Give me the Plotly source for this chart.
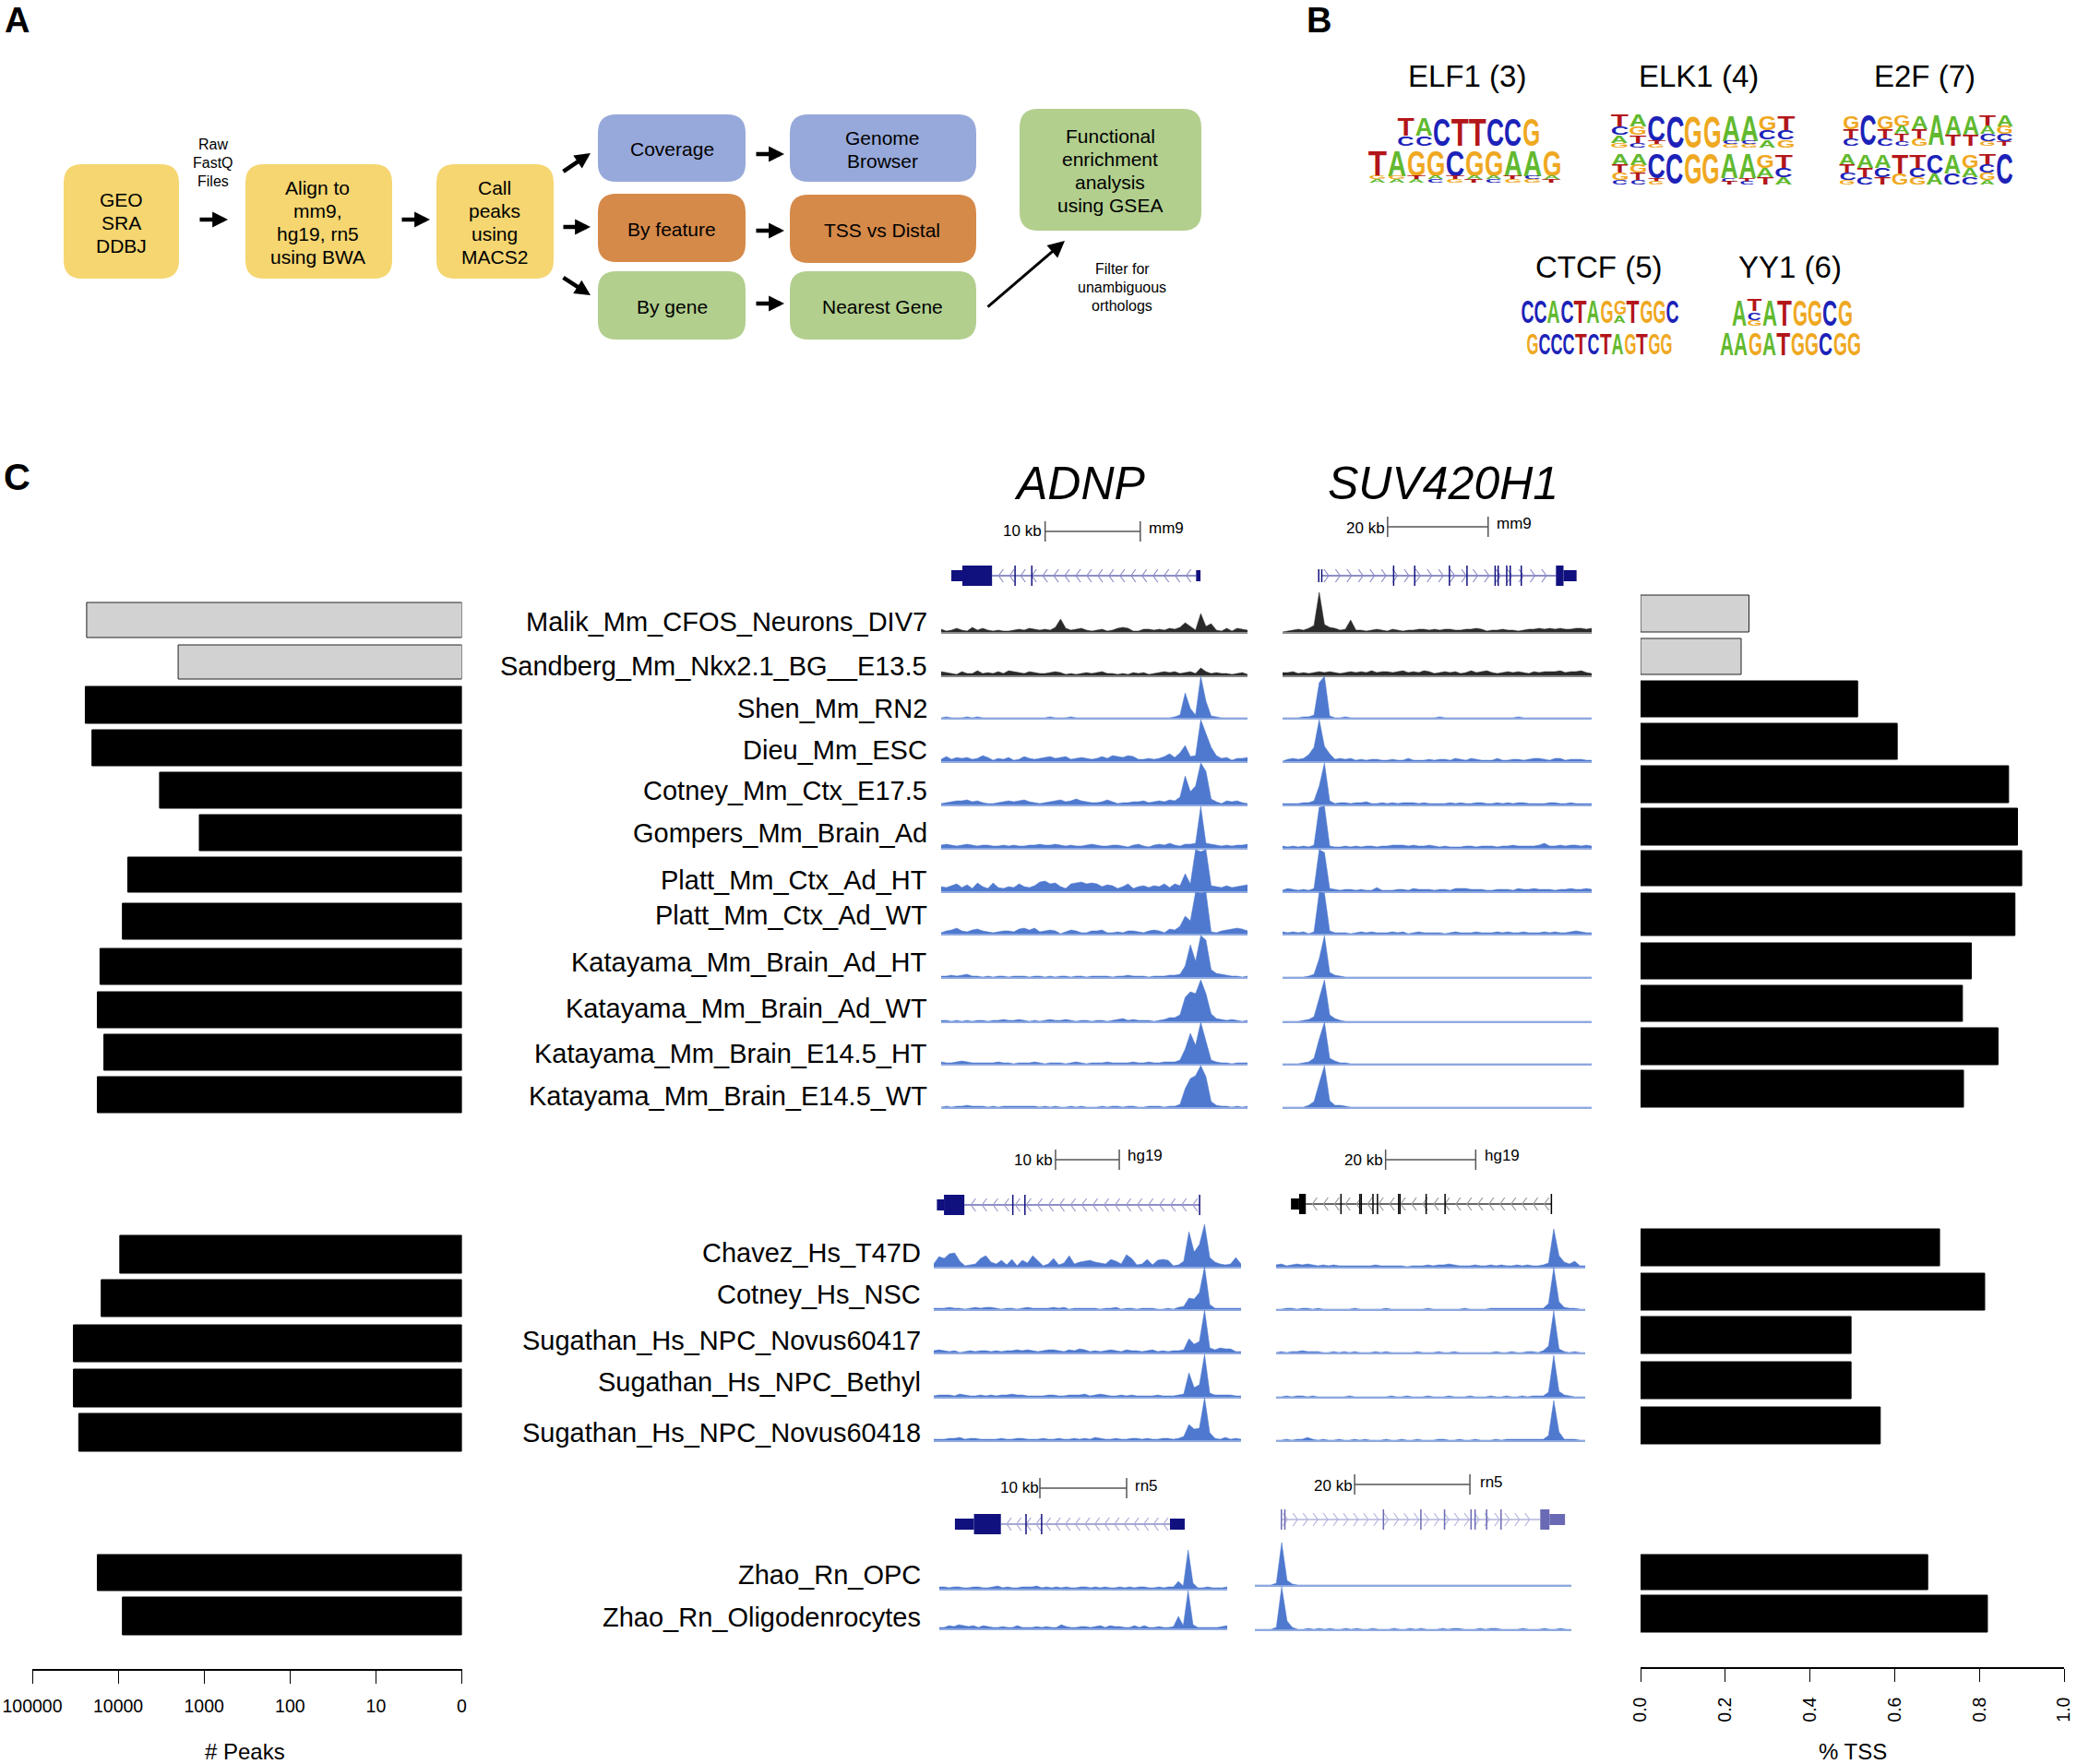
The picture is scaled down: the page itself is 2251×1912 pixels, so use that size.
import json
import numpy as np
import plotly.graph_objects as go

W, H = 2251, 1912

# ---------- DATA ----------
TRACK_NAMES_MM = ["Malik_Mm_CFOS_Neurons_DIV7", "Sandberg_Mm_Nkx2.1_BG__E13.5", "Shen_Mm_RN2", "Dieu_Mm_ESC",
                  "Cotney_Mm_Ctx_E17.5", "Gompers_Mm_Brain_Ad", "Platt_Mm_Ctx_Ad_HT", "Platt_Mm_Ctx_Ad_WT",
                  "Katayama_Mm_Brain_Ad_HT", "Katayama_Mm_Brain_Ad_WT", "Katayama_Mm_Brain_E14.5_HT",
                  "Katayama_Mm_Brain_E14.5_WT"]
TRACK_NAMES_HS = ["Chavez_Hs_T47D", "Cotney_Hs_NSC", "Sugathan_Hs_NPC_Novus60417", "Sugathan_Hs_NPC_Bethyl",
                  "Sugathan_Hs_NPC_Novus60418"]
TRACK_NAMES_RN = ["Zhao_Rn_OPC", "Zhao_Rn_Oligodenrocytes"]

PEAK_COUNTS = [23300, 2005, 24150, 20200, 3300, 1137, 7740, 8930, 16300, 17500, 14680, 17500,
               9580, 15760, 33200, 33200, 28800, 17500, 8930]
TSS_FRACTION = [0.256, 0.2375, 0.5125, 0.606, 0.869, 0.89, 0.9, 0.884, 0.781, 0.76, 0.844, 0.7625,
                0.706, 0.8125, 0.497, 0.497, 0.566, 0.678, 0.819]
PEAK_TICKS = [100000, 10000, 1000, 100, 10, 1]
PEAK_TICK_TEXT = ["100000", "10000", "1000", "100", "10", "0"]
TSS_TICKS = [0.0, 0.2, 0.4, 0.6, 0.8, 1.0]
TSS_TICK_TEXT = ["0.0", "0.2", "0.4", "0.6", "0.8", "1.0"]

ADNP_MM = [
 [3,1,2,4,2,1,5,2,4,2, 1,2,1,1,2,3,2,4,3,2, 3,2,5,14,4,2,3,4,2,1, 2,3,1,2,4,5,4,1,1,3, 3,2,3,2,4,3,5,10,6,2, 20,6,9,2,1,4,1,4,3,2],
 [4,3,2,1,4,2,2,5,2,3, 2,4,2,5,4,3,2,4,3,2, 2,3,4,3,1,2,1,2,3,2, 3,4,2,2,1,2,1,3,2,3, 1,2,3,4,3,4,2,3,4,2, 8,4,2,3,2,2,1,2,3,1],
 [0,1,0,0,0,1,0,1,0,0, 0,0,0,0,0,0,0,0,0,0, 0,1,0,0,0,1,0,0,0,0, 0,0,0,0,0,0,0,0,0,0, 0,0,0,0,0,1,3,27,10,3, 45,18,2,1,0,0,0,0,0,0],
 [2,5,2,4,3,4,2,3,6,4, 1,3,2,4,1,2,5,3,2,3, 4,5,3,4,5,2,3,4,3,2, 3,5,3,6,5,4,6,5,2,2, 3,2,3,5,8,4,9,17,5,6, 45,30,15,6,3,4,1,3,3,4],
 [1,2,3,4,4,5,3,4,2,1, 1,2,3,4,3,4,5,3,2,1, 2,3,4,5,3,4,6,4,3,2, 2,3,5,3,1,2,2,3,3,4, 2,3,4,3,5,4,8,31,14,20, 45,36,6,3,1,4,3,4,2,1],
 [3,4,3,2,3,4,3,2,3,3, 2,2,3,2,3,2,2,3,3,4, 3,3,4,3,2,3,2,2,3,4, 3,2,2,3,3,2,1,3,4,2, 1,3,4,3,5,3,2,4,4,5, 45,5,4,3,2,3,2,3,3,4],
 [5,4,6,8,4,7,3,9,5,3, 9,4,3,5,4,8,5,4,6,10, 11,8,9,5,3,8,9,10,8,9, 8,5,7,6,3,5,8,3,5,6, 4,6,5,8,4,8,6,19,8,45, 43,45,6,5,4,6,4,5,6,7],
 [1,3,4,6,3,2,4,5,3,2, 1,2,3,3,2,5,6,4,6,2, 3,4,3,0,2,4,3,1,1,3, 3,4,1,1,2,1,3,3,2,1, 3,4,3,1,5,4,8,19,14,45, 44,45,2,1,3,4,5,6,5,3],
 [1,1,2,1,2,3,1,1,0,1, 0,1,1,0,1,1,1,0,1,1, 0,1,0,1,1,0,1,1,0,1, 1,1,1,0,1,1,2,1,1,1, 0,1,1,1,2,2,3,12,35,17, 45,40,8,4,3,2,1,1,0,1],
 [1,1,0,1,0,1,0,1,1,0, 1,1,2,1,1,2,1,0,1,0, 1,2,1,1,2,1,0,1,1,0, 1,1,0,1,2,3,1,2,1,1, 1,0,1,2,4,4,7,26,32,30, 45,30,8,3,2,1,2,1,0,1],
 [2,1,1,2,3,2,1,1,1,1, 1,2,1,1,0,1,1,1,2,1, 0,1,1,1,0,1,2,1,0,1, 1,1,2,1,1,1,1,2,1,1, 2,1,1,2,2,2,4,16,33,20, 45,24,4,2,1,1,0,1,1,1],
 [0,1,0,1,1,2,1,1,1,0, 1,0,1,1,1,1,1,1,1,0, 1,0,1,0,0,1,0,1,0,0, 0,1,0,1,1,0,1,1,0,0, 1,1,1,0,1,1,3,20,31,34, 45,33,6,2,1,1,0,1,0,1],
]
SUV_MM = [
 [0,1,2,3,2,4,7,43,8,5, 4,2,3,13,2,2,1,2,3,2, 1,3,2,1,2,2,3,3,2,3, 2,3,3,2,2,3,3,4,3,1, 2,2,3,2,2,1,2,3,3,4, 3,4,3,4,3,3,4,4,3,4],
 [3,3,4,2,3,2,3,4,3,4, 3,2,3,4,3,4,3,5,3,4, 4,3,4,5,3,4,3,5,4,2, 3,4,3,4,2,3,5,3,4,5, 3,2,3,4,3,4,3,2,4,3, 4,4,4,5,3,4,4,5,3,2],
 [0,0,0,0,1,1,3,38,45,2, 0,0,1,0,0,0,0,0,0,0, 0,0,0,0,0,0,0,0,0,0, 1,0,0,0,0,0,0,0,0,0, 0,0,0,0,0,1,0,0,0,0, 0,0,0,0,0,0,0,0,0,0],
 [0,2,3,2,3,7,15,45,16,8, 2,3,2,3,1,2,1,2,2,1, 1,2,1,1,3,1,1,1,2,1, 2,2,1,3,2,1,3,2,1,1, 1,3,1,1,2,2,1,2,3,3, 2,1,3,3,1,2,2,2,1,1],
 [1,1,1,1,2,2,4,20,45,4, 1,2,2,1,2,2,3,1,1,2, 1,2,1,2,2,2,1,2,1,1, 1,1,2,1,2,1,1,2,2,1, 1,2,1,2,1,2,2,1,1,1, 1,2,2,1,1,2,1,1,1,1],
 [2,1,2,1,2,1,3,44,45,2, 1,1,2,1,2,1,2,2,1,2, 2,3,3,3,2,3,2,2,3,2, 1,2,1,1,1,2,2,1,2,2, 2,1,2,2,3,2,2,2,2,3, 5,2,2,3,2,3,3,2,3,2],
 [1,3,2,1,2,1,3,45,42,3, 2,1,2,2,1,2,1,1,4,1, 1,1,2,2,1,3,2,2,2,1, 2,2,1,3,3,3,2,2,2,1, 1,2,2,2,1,3,2,2,3,2, 2,2,1,2,2,3,2,2,3,2],
 [2,1,2,1,2,0,2,45,44,3, 1,1,1,0,1,2,1,2,1,1, 1,2,1,2,0,1,2,1,1,1, 1,0,1,2,1,1,1,2,1,1, 1,2,1,2,1,1,2,1,1,1, 2,1,2,1,1,2,3,2,1,1],
 [0,0,0,0,0,1,3,20,45,5, 2,1,0,0,0,0,0,0,0,0, 0,0,0,0,0,0,0,0,0,0, 0,0,0,0,0,0,0,0,0,0, 0,0,0,0,0,0,0,0,0,0, 0,0,0,0,0,0,0,0,0,0],
 [0,0,0,0,1,2,5,24,45,7, 3,1,0,0,0,0,0,0,0,0, 0,0,0,0,0,0,0,0,0,0, 0,0,0,0,0,0,0,0,0,0, 0,0,0,0,0,0,0,0,0,0, 0,0,0,0,0,0,0,0,0,0],
 [0,0,0,0,1,2,6,27,45,6, 3,1,1,0,0,0,0,0,0,0, 0,0,0,0,0,0,0,0,0,0, 0,0,0,0,0,0,0,0,0,0, 0,0,0,0,0,0,0,0,0,0, 0,0,0,0,0,0,0,0,0,0],
 [0,0,0,0,0,2,6,26,45,7, 2,2,1,0,0,0,0,0,0,0, 0,0,0,0,0,0,0,0,0,0, 0,0,0,0,0,0,0,0,0,0, 0,0,0,0,0,0,0,0,0,0, 0,0,0,0,0,0,0,0,0,0],
]
ADNP_HS = [
 [3,11,9,14,15,6,1,2,3,9, 12,5,3,7,2,8,1,7,4,12, 6,1,3,9,2,4,12,3,5,6, 7,5,4,3,8,6,3,13,9,2, 3,8,2,7,8,7,1,2,6,38, 16,24,46,10,5,3,2,3,10,3],
 [1,1,1,2,1,1,0,1,2,1, 2,2,1,0,1,1,0,1,2,1, 1,1,1,2,1,2,0,1,1,1, 1,1,0,1,1,2,0,1,1,0, 1,1,1,0,0,1,0,2,3,12, 11,18,46,5,1,1,1,1,1,1],
 [2,3,2,1,2,0,1,2,1,2, 2,1,2,1,2,2,3,2,3,2, 1,2,3,3,2,1,3,2,4,3, 1,2,1,2,3,2,1,3,2,2, 1,2,3,1,2,1,2,2,3,15, 9,12,46,5,3,5,4,4,1,1],
 [1,2,2,2,1,3,2,1,1,2, 1,2,1,2,2,3,2,2,1,1, 1,1,2,2,1,1,2,2,2,3, 1,2,3,2,1,1,2,1,2,1, 1,1,1,2,1,1,1,2,3,26, 10,13,46,4,2,2,2,2,1,1],
 [1,1,1,2,2,3,1,2,2,1, 1,1,1,2,1,1,2,2,1,1, 1,2,1,1,2,1,1,2,1,2, 1,3,2,1,1,2,1,1,2,2, 1,2,1,1,2,2,1,2,4,17, 12,13,46,8,2,1,3,1,2,1],
]
SUV_HS = [
 [2,3,1,2,3,2,3,2,1,2, 1,2,1,1,1,1,1,1,1,2, 1,1,1,1,1,0,1,1,1,2, 1,2,2,3,2,1,1,1,2,1, 1,2,1,2,1,1,2,1,2,1, 1,2,4,41,12,5,3,6,1,1],
 [0,0,1,1,0,1,1,0,1,0, 0,0,0,0,0,1,0,0,0,0, 0,1,0,0,0,0,0,0,0,1, 0,0,0,0,0,0,1,0,0,0, 0,1,1,1,1,1,1,1,1,1, 1,1,6,45,8,2,1,1,0,0],
 [0,1,0,1,1,2,1,1,1,0, 0,1,0,1,0,1,0,0,0,1, 0,1,0,0,0,0,0,1,0,0, 0,1,0,0,1,0,0,0,0,0, 0,0,1,0,0,1,0,0,1,1, 0,2,7,45,4,1,0,1,0,0],
 [0,0,1,0,1,1,0,1,0,0, 0,0,0,0,1,0,0,0,0,0, 0,0,1,0,0,1,0,0,0,1, 0,0,0,1,0,0,0,1,0,0, 0,1,0,0,1,0,0,1,0,1, 1,1,5,45,6,2,1,0,0,0],
 [0,0,1,0,1,1,3,1,0,1, 0,0,1,0,0,1,0,1,0,0, 0,1,0,0,1,0,0,1,0,0, 0,1,1,0,0,1,0,0,1,0, 0,0,1,0,1,1,1,1,1,1, 1,1,5,43,9,1,1,1,0,0],
]
ADNP_RN = [
 [2,2,1,2,2,1,1,2,2,1, 1,2,3,1,2,1,1,2,2,2, 3,1,2,1,2,1,2,1,1,2, 2,1,2,1,2,1,1,2,1,2, 1,2,2,1,1,2,1,2,2,8, 3,42,6,1,1,2,1,1,1,2],
 [1,1,3,2,4,3,2,3,1,3, 2,1,1,2,1,1,3,1,1,1, 2,1,2,1,1,4,2,1,1,2, 2,1,2,3,1,3,2,2,1,1, 3,1,3,1,1,2,1,1,2,13, 3,41,4,1,1,1,1,1,2,3],
]
SUV_RN = [
 [0,0,0,0,2,46,5,1,0,0, 0,0,0,0,0,0,0,0,0,0, 0,0,0,0,0,0,0,0,0,0, 0,0,0,0,0,0,0,0,0,0, 0,0,0,0,0,0,0,0,0,0, 0,0,0,0,0,0,0,0,0,0],
 [0,0,0,0,2,46,9,2,0,0, 1,0,1,0,1,0,0,1,0,1, 0,0,1,0,0,0,1,0,0,1, 0,1,0,0,0,1,0,1,1,0, 0,0,1,0,1,1,0,0,0,0, 1,0,0,0,1,0,0,1,0,0],
]

# gene models: positions in kb inside each browser window
ADNP_MM9 = dict(utr=[(1.07,2.23),(26.8,27.26)], cds=[(2.23,5.35)], ticks=[7.77,9.53], intron=(5.35,26.8), step=1.16, way=-1)
SUV_MM9 = dict(utr=[(55.9,58.5)], cds=[(54.4,55.9)], short=[7.2,7.8], ticks=[22.1,26.3,33.2,36.7,42.3,42.9,44.6,45.3,47.5], intron=(7.8,54.4), step=2.28, way=1)
ADNP_HG19 = dict(utr=[(0.49,1.6)], cds=[(1.6,4.8)], ticks=[12.4,14.3,41.7], intron=(4.8,41.7), step=1.74, way=-1)
SUV_HG19 = dict(utr=[(3.3,5.1)], cds=[(5.1,6.6)], ticks=[14.4,18.6,18.9,21.5,22.5,27.2,27.5,33.3,37.5,61.1], intron=(6.6,61.1), step=2.45, way=-1)
ADNP_RN5 = dict(utr=[(1.8,4.0),(26.6,28.3)], cds=[(4.0,7.1)], ticks=[10.0,11.8], intron=(7.1,26.6), step=1.13, way=-1)
SUV_RN5 = dict(utr=[(51.1,53.8)], cds=[(49.5,51.1)], ticks=[4.6,5.2,22.3,28.8,32.9,37.5,38.2,40.2,42.7], intron=(4.6,49.5), step=1.75, way=1)
SCALE_KB = dict(adnp=10, suv=20)

# sequence logos: upper case = full letters top to bottom, lower case = faint residue at the foot
LOGO_ELF1_A = ["TC","AC","C","T","T","C","C","G"]
LOGO_ELF1_B = ["Tga","Aga","Gta","Gac","Ctg","Gat","Gac","Atg","Acg","Gat"]
LOGO_ELK1_A = ["TCAG","AGTC","Ctg","C","G","G","Acg","Acg","GCA","TCG"]
LOGO_ELK1_B = ["ATGC","AGTC","Ctg","C","G","G","Act","Atc","GAT","TCA"]
LOGO_E2F_A = ["GTC","C","GTC","GATC","ATG","A","AT","AT","TACG","AGCT"]
LOGO_E2F_B = ["ATCG","ATC","ACT","TG","TCG","CA","AC","GAC","TCGA","C"]
LOGO_CTCF_A = ["C","C","A","C","T","A","G","GA","T","G","G","C"]
LOGO_CTCF_B = ["G","C","C","C","T","C","T","A","G","T","G","G"]
LOGO_YY1_A = ["A","TCG","A","T","G","G","C","G"]
LOGO_YY1_B = ["A","A","G","A","T","G","G","C","G","G"]

# ---------- STYLE / LAYOUT ----------
FONT = "Liberation Sans"
BLUE = "#4f79cf"
BASE_BLUE = "#8fa9e0"
NUC = dict(A="#62b92f", C="#1c22b8", G="#efa821", T="#b3161a")
YELLOW, PERI, ORANGE, GREEN = "#f5d671", "#97a9da", "#d58a4a", "#b2cf8e"

fig = go.Figure()
layout = {}
annotations, shapes = [], []
letter_width = {}
axis_id = [1]

HIDDEN = dict(showgrid=False, zeroline=False, showticklabels=False, ticks="", showline=False, fixedrange=True)
# full-page axes in which all free text is placed
layout["xaxis"] = dict(HIDDEN, domain=[0, 1], range=[0, W], anchor="y")
layout["yaxis"] = dict(HIDDEN, domain=[0, 1], range=[H, 0], anchor="x")
fig.add_trace(go.Scatter(x=[0], y=[0], mode="lines", showlegend=False, hoverinfo="skip"))


def new_axes(x0, x1, y0, y1, xr, yr, xkw=None, ykw=None):
    axis_id[0] += 1
    n = axis_id[0]
    xa = dict(HIDDEN, domain=[x0 / W, x1 / W], range=xr, anchor=f"y{n}")
    ya = dict(HIDDEN, domain=[1 - y1 / H, 1 - y0 / H], range=yr, anchor=f"x{n}")
    if xkw:
        xa.update(xkw)
    if ykw:
        ya.update(ykw)
    layout[f"xaxis{n}"] = xa
    layout[f"yaxis{n}"] = ya
    return f"x{n}", f"y{n}"


def text(x, y, s, size, anchor="center", color="black", family=FONT, bold=False, italic=False):
    if bold:
        s = f"<b>{s}</b>"
    if italic:
        s = f"<i>{s}</i>"
    annotations.append(dict(x=x, y=y, xref="x", yref="y", text=s, showarrow=False, xanchor=anchor,
                            yanchor="middle", borderpad=0, borderwidth=0,
                            font=dict(family=family, size=size, color=color)))


def round_box(x0, y0, x1, y1, color, r=20):
    def p(a, b):
        return f"{a / W:.5f} {1 - b / H:.5f}"
    path = (f"M {p(x0+r,y0)} L {p(x1-r,y0)} Q {p(x1,y0)} {p(x1,y0+r)} L {p(x1,y1-r)} Q {p(x1,y1)} {p(x1-r,y1)} "
            f"L {p(x0+r,y1)} Q {p(x0,y1)} {p(x0,y1-r)} L {p(x0,y0+r)} Q {p(x0,y0)} {p(x0+r,y0)} Z")
    shapes.append(dict(type="path", xref="paper", yref="paper", path=path, fillcolor=color, line=dict(width=0)))


def arrow(x0, y0, x1, y1, width=4.5, size=0.75):
    annotations.append(dict(x=x1, y=y1, xref="x", yref="y", text="", showarrow=True, arrowhead=2,
                            arrowsize=size, arrowwidth=width, arrowcolor="black", ax=x0, ay=y0,
                            axref="x", ayref="y"))


# ---------- PANEL LETTERS ----------
text(18, 22, "A", 38, bold=True)
text(1429, 22, "B", 38, bold=True)
text(18, 517, "C", 40, bold=True)

# ---------- PANEL A ----------
for b in [(69, 178, 194, 302, YELLOW), (266, 178, 425, 302, YELLOW), (473, 178, 600, 302, YELLOW),
          (648, 124, 808, 197, PERI), (648, 210, 808, 284, ORANGE), (648, 294, 808, 368, GREEN),
          (856, 124, 1058, 197, PERI), (856, 211, 1058, 285, ORANGE), (856, 294, 1058, 368, GREEN),
          (1105, 118, 1302, 250, GREEN)]:
    round_box(*b)
FS = 21
for x, ys, lines in [(131, (216, 241, 266), ("GEO", "SRA", "DDBJ")),
                     (344, (203, 228, 253, 278), ("Align to", "mm9,", "hg19, rn5", "using BWA")),
                     (536, (203, 228, 253, 278), ("Call", "peaks", "using", "MACS2")),
                     (728, (161,), ("Coverage",)), (728, (248,), ("By feature",)), (728, (332,), ("By gene",)),
                     (956, (149, 174), ("Genome", "Browser")), (956, (249,), ("TSS vs Distal",)),
                     (956, (332,), ("Nearest Gene",)),
                     (1203, (147, 172, 197, 222), ("Functional", "enrichment", "analysis", "using GSEA"))]:
    for y, s in zip(ys, lines):
        text(x, y, s, FS)
for y, s in zip((156, 176, 196), ("Raw", "FastQ", "Files")):
    text(231, y, s, 16)
for y, s in zip((291, 311, 331), ("Filter for", "unambiguous", "orthologs")):
    text(1216, y, s, 16)
for a in [(215, 238, 247, 238), (434, 238, 466, 238), (609, 246, 640, 246), (609, 187, 640, 166), (609, 300, 640, 320),
          (818, 167, 850, 167), (818, 250, 850, 250), (818, 329, 850, 329)]:
    arrow(*a)
arrow(1069, 334, 1154, 261, width=3, size=1.2)

# ---------- PANEL B ----------
for x, y, s in [(1590, 82, "ELF1 (3)"), (1841, 82, "ELK1 (4)"), (2086, 82, "E2F (7)"),
                (1732, 289, "CTCF (5)"), (1940, 289, "YY1 (6)")]:
    text(x, y, s, 33)


def logo(cols, x0, x1, y0, y1):
    dx = (x1 - x0) / len(cols)
    for i, col in enumerate(cols):
        lows = [c for c in col if c.islower()]
        ups = [c for c in col if c.isupper()]
        share = {1: [1.0], 2: [.66, .34], 3: [.46, .3, .24], 4: [.36, .26, .22, .16]}[len(ups)]
        rest = 1 - 0.1 * len(lows)
        hs = [s * rest for s in share] + [0.1] * len(lows)
        y = y0
        for c, h in zip(ups + lows, hs):
            hh = h * (y1 - y0)
            text(x0 + (i + .5) * dx, y + hh / 2, c.upper(), max(hh / 0.72, 3), color=NUC[c.upper()], bold=True)
            letter_width[len(annotations) - 1] = round(dx * 0.98, 2)
            y += hh


logo(LOGO_ELF1_A, 1514, 1669, 127, 158)
logo(LOGO_ELF1_B, 1483, 1692, 163, 198)
logo(LOGO_ELK1_A, 1745, 1946, 125, 160)
logo(LOGO_ELK1_B, 1746, 1943, 167, 200)
logo(LOGO_E2F_A, 1997, 2182, 125, 158)
logo(LOGO_E2F_B, 1993, 2182, 167, 200)
logo(LOGO_CTCF_A, 1648, 1820, 325, 350)
logo(LOGO_CTCF_B, 1654, 1813, 362, 384)
logo(LOGO_YY1_A, 1877, 2008, 325, 353)
logo(LOGO_YY1_B, 1864, 2017, 360, 385)

# ---------- PANEL C: titles ----------
text(1170, 524, "ADNP", 50, italic=True)
text(1564, 524, "SUV420H1", 50, italic=True)

# ---------- tracks ----------
MM_BASE = [685, 732, 778, 825, 872, 919, 966, 1012, 1059, 1107, 1153, 1200]
HS_BASE = [1373, 1419, 1466, 1514, 1561]
RN_BASE_A = [1722, 1765]
RN_BASE_S = [1718, 1766]
MM_LABEL_Y = [674, 722, 768, 813, 857, 903, 954, 992, 1043, 1093, 1142, 1188]
HS_LABEL_Y = [1358, 1403, 1453, 1498, 1553]
RN_LABEL_Y = [1707, 1753]


def track(vals, x0, x1, base, dark=False):
    xa, ya = new_axes(x0, x1, base - 46, base, [0, len(vals) - 1], [0, 46],
                      xkw=dict(showline=True, linecolor="#8a8a8a" if dark else BASE_BLUE, linewidth=1.5))
    c = "#2a2a2a" if dark else BLUE
    fig.add_trace(go.Scatter(x=list(range(len(vals))), y=vals, mode="lines", fill="tozeroy", fillcolor=c,
                             line=dict(color=c, width=0.5), xaxis=xa, yaxis=ya, showlegend=False, hoverinfo="skip"))


for i, b in enumerate(MM_BASE):
    track(ADNP_MM[i], 1020, 1352, b, dark=i < 2)
    track(SUV_MM[i], 1390, 1725, b, dark=i < 2)
for i, b in enumerate(HS_BASE):
    track(ADNP_HS[i], 1012, 1345, b)
    track(SUV_HS[i], 1383, 1718, b)
for i in range(2):
    track(ADNP_RN[i], 1018, 1330, RN_BASE_A[i])
    track(SUV_RN[i], 1360, 1703, RN_BASE_S[i])

for s, y in zip(TRACK_NAMES_MM, MM_LABEL_Y):
    text(1005, y, s, 29, anchor="right")
for s, y in zip(TRACK_NAMES_HS + TRACK_NAMES_RN, HS_LABEL_Y + RN_LABEL_Y):
    text(998, y, s, 29, anchor="right")


# ---------- gene models ----------
def gene(g, x0, x1, yc, kb_wide, bar_kb, bar_dy, ink, chev, line, cds_h=22, utr_h=12):
    xa, ya = new_axes(x0, x1, yc - 70, yc + 20, [0, kb_wide], [20, -70])
    kpp = kb_wide / (x1 - x0)
    kw = dict(xaxis=xa, yaxis=ya, showlegend=False, hoverinfo="skip", mode="lines")
    # scale bar
    b0, b1 = bar_kb
    fig.add_trace(go.Scatter(x=[b0, b1, None, b0, b0, None, b1, b1], y=[bar_dy, bar_dy, None, bar_dy - 11, bar_dy + 11,
                                                                         None, bar_dy - 11, bar_dy + 11],
                             line=dict(color="#555555", width=1.5), **kw))
    # intron + chevrons
    i0, i1 = g["intron"]
    fig.add_trace(go.Scatter(x=[i0, i1], y=[0, 0], line=dict(color=line, width=1.5), **kw))
    xs, ys = [], []
    d = 5 * kpp * g["way"]
    for c in np.arange(i0 + g["step"] * .6, i1 - g["step"] * .2, g["step"]):
        xs += [c - d, c, c - d, None]
        ys += [-7, 0, 7, None]
    fig.add_trace(go.Scatter(x=xs, y=ys, line=dict(color=chev, width=1.2), **kw))
    xs, ys = [], []
    for t in g["ticks"]:
        xs += [t, t, None]
        ys += [-cds_h / 2, cds_h / 2, None]
    fig.add_trace(go.Scatter(x=xs, y=ys, line=dict(color=ink, width=1.5), **kw))
    if g.get("short"):
        xs, ys = [], []
        for t in g["short"]:
            xs += [t, t, None]
            ys += [-utr_h / 2 - 1, utr_h / 2 + 1, None]
        fig.add_trace(go.Scatter(x=xs, y=ys, line=dict(color=ink, width=1.5), **kw))
    for spans, h in ((g["utr"], utr_h), (g["cds"], cds_h)):
        xs, ys = [], []
        for a, b in spans:
            xs += [a, b, b, a, a, None]
            ys += [-h / 2, -h / 2, h / 2, h / 2, -h / 2, None]
        fig.add_trace(go.Scatter(x=xs, y=ys, fill="toself", fillcolor=ink, line=dict(color=ink, width=0), **kw))


NAVY = "#10107e"
gene(ADNP_MM9, 1020, 1352, 624, 32.2, (10.93, 10.93 + SCALE_KB["adnp"]), -48, NAVY, "#8c8cc8", "#6a6ab4")
gene(SUV_MM9, 1390, 1725, 624, 61.5, (20.9, 20.9 + SCALE_KB["suv"]), -53, NAVY, "#8c8cc8", "#6a6ab4")
gene(ADNP_HG19, 1012, 1345, 1306, 48.2, (19.1, 19.1 + SCALE_KB["adnp"]), -49, NAVY, "#9a9acc", "#6a6ab4")
gene(SUV_HG19, 1383, 1718, 1305, 68.6, (24.3, 24.3 + SCALE_KB["suv"]), -48, "#000000", "#999999", "#333333")
gene(ADNP_RN5, 1018, 1330, 1652, 33.2, (11.6, 11.6 + SCALE_KB["adnp"]), -39, NAVY, "#a8a8d4", "#8a8ac4")
gene(SUV_RN5, 1360, 1703, 1647, 54.9, (17.3, 17.3 + SCALE_KB["suv"]), -38, "#6a6ab4", "#b4b4dc", "#b4b4dc")

for x, y, s, a in [(1129, 575, "10 kb", "right"), (1245, 572, "mm9", "left"), (1501, 572, "20 kb", "right"), (1622, 567, "mm9", "left"),
                   (1141, 1257, "10 kb", "right"), (1222, 1252, "hg19", "left"), (1499, 1257, "20 kb", "right"), (1609, 1252, "hg19", "left"),
                   (1126, 1612, "10 kb", "right"), (1230, 1610, "rn5", "left"), (1466, 1610, "20 kb", "right"), (1604, 1606, "rn5", "left")]:
    text(x, y, s, 17, anchor=a)

# ---------- bar panels ----------
LEFT_ROWS = [(653, 691), (699, 736), (744, 784), (791, 830), (837, 876), (883, 922), (929, 967), (979, 1018), (1028, 1067),
             (1075, 1114), (1121, 1160), (1167, 1206), (1339, 1380), (1387, 1427), (1436, 1476), (1484, 1525), (1532, 1573),
             (1685, 1724), (1731, 1772)]
RIGHT_ROWS = [(645, 685), (692, 731), (738, 777), (784, 823), (830, 870), (876, 916), (922, 960), (968, 1014), (1022, 1061),
              (1068, 1107), (1114, 1154), (1160, 1200), (1332, 1372), (1380, 1420), (1427, 1467), (1476, 1516), (1525, 1565),
              (1685, 1723), (1729, 1769)]
BAR_COLORS = ["#d2d2d2", "#d2d2d2"] + ["#000000"] * 17
LINE_COLORS = ["#222222", "#222222"] + ["#000000"] * 17
AX_FONT = dict(family=FONT, size=19.5, color="black")

xa, ya = new_axes(35, 500.5, 640, 1809, [5, 0], [1809, 640],
                  xkw=dict(type="log", showline=True, linecolor="black", linewidth=1.5, ticks="outside", ticklen=14,
                           tickcolor="black", tickwidth=1, tickvals=PEAK_TICKS, ticktext=PEAK_TICK_TEXT,
                           showticklabels=True, tickfont=AX_FONT, tickangle=0, ticklabelstandoff=8,
                           side="bottom"))
fig.add_trace(go.Bar(x=[v - 1 for v in PEAK_COUNTS], base=1, y=[(a + b) / 2 for a, b in LEFT_ROWS],
                     width=[b - a for a, b in LEFT_ROWS], orientation="h",
                     marker=dict(color=BAR_COLORS, line=dict(color=LINE_COLORS, width=1)),
                     xaxis=xa, yaxis=ya, showlegend=False, hoverinfo="skip"))
xa, ya = new_axes(1778, 2237, 640, 1807, [0, 1], [1807, 640],
                  xkw=dict(showline=True, linecolor="black", linewidth=1.5, ticks="outside", ticklen=14, tickcolor="black",
                           tickwidth=1, tickvals=TSS_TICKS, ticktext=TSS_TICK_TEXT, showticklabels=True, tickfont=AX_FONT,
                           tickangle=-90, ticklabelstandoff=9, side="bottom"))
fig.add_trace(go.Bar(x=TSS_FRACTION, y=[(a + b) / 2 for a, b in RIGHT_ROWS],
                     width=[b - a for a, b in RIGHT_ROWS], orientation="h",
                     marker=dict(color=BAR_COLORS, line=dict(color=LINE_COLORS, width=1)),
                     xaxis=xa, yaxis=ya, showlegend=False, hoverinfo="skip"))
text(265, 1898, "# Peaks", 24)
text(2008, 1898, "% TSS", 24)

fig.update_layout(width=W, height=H, autosize=False,
                  margin=dict(l=0, r=0, t=0, b=0, pad=0, autoexpand=False), paper_bgcolor="white",
                  plot_bgcolor="rgba(0,0,0,0)", font=dict(family=FONT), barmode="overlay",
                  annotations=annotations, shapes=shapes, **layout)

# logo letters keep their text but are stretched sideways to fill their column, as in a sequence logo
POST = """
document.body.style.margin='0';document.documentElement.style.overflow='hidden';
var LW=%s;
function fitLetters(){
  document.querySelectorAll('g.annotation').forEach(function(g){
    var w=LW[g.getAttribute('data-index')]; if(!w) return;
    var t=g.querySelector('text'); if(!t) return;
    t.style.transform='none';
    var bw=t.getBBox().width; if(!bw) return;
    t.style.transformBox='fill-box'; t.style.transformOrigin='center';
    t.style.transform='scaleX('+(w/bw)+')';
  });
}
fitLetters();[50,300,1000].forEach(function(d){setTimeout(fitLetters,d);});
""" % json.dumps(letter_width)
fig.write_html("out.html", post_script=POST, config=dict(displayModeBar=False))
